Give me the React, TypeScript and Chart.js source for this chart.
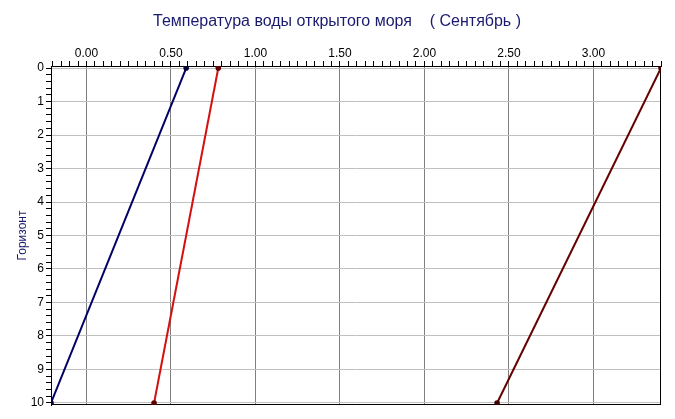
import React, { useEffect, useRef } from 'react';
import { Chart, registerables } from 'chart.js';

Chart.register(...registerables);

const TITLE = 'Температура воды открытого моря    ( Сентябрь )';
const Y_TITLE = 'Горизонт';
const HORIZONS = [0, 10];
const SERIES_NAVY = [0.59, -0.21];
const SERIES_RED = [0.78, 0.4];
const SERIES_DARKRED = [3.4, 2.43];
const X_MIN = -0.21;
const X_MAX = 3.4;
const Y_MIN = -0.06;
const Y_MAX = 10.06;
const X_STEP = 0.05;
const X_MAJOR = 0.5;
const Y_STEP = 0.2;
const Y_MAJOR = 1;

const FONT = '"Liberation Sans", Arial, sans-serif';

const isMajor = (v: number, m: number) => Math.abs(v / m - Math.round(v / m)) < 1e-6;

const toPoints = (xs: number[]) => xs.map((x, i) => ({ x, y: HORIZONS[i] }));

const framePlugin = {
  id: 'frame',
  beforeDatasetsDraw(chart: any) {
    const { ctx, chartArea } = chart;
    ctx.save();
    ctx.strokeStyle = '#000';
    ctx.lineWidth = 1;
    ctx.strokeRect(
      Math.round(chartArea.left) + 0.5,
      Math.round(chartArea.top) + 0.5,
      Math.round(chartArea.right - chartArea.left) - 1,
      Math.round(chartArea.bottom - chartArea.top) - 1
    );
    ctx.restore();
  },
  afterDraw(chart: any) {
    const { ctx } = chart;
    ctx.save();
    ctx.fillStyle = '#1a1a6e';
    ctx.font = `16px ${FONT}`;
    ctx.textAlign = 'center';
    ctx.textBaseline = 'middle';
    ctx.fillText(TITLE, 337, 22);
    ctx.restore();
  },
};

export default function App() {
  const ref = useRef<HTMLCanvasElement | null>(null);

  useEffect(() => {
    document.body.style.margin = '0';
    if (!ref.current) return;
    const chart = new Chart(ref.current, {
      type: 'scatter',
      data: {
        datasets: [
          {
            data: toPoints(SERIES_NAVY),
            showLine: true,
            borderColor: '#000066',
            borderWidth: 2,
            pointRadius: 1.8,
            pointBackgroundColor: '#000033',
            pointBorderColor: '#000033',
          },
          {
            data: toPoints(SERIES_RED),
            showLine: true,
            borderColor: '#d41010',
            borderWidth: 2,
            pointRadius: 1.8,
            pointBackgroundColor: '#600000',
            pointBorderColor: '#600000',
          },
          {
            data: toPoints(SERIES_DARKRED),
            showLine: true,
            borderColor: '#660000',
            borderWidth: 2,
            pointRadius: 1.8,
            pointBackgroundColor: '#400000',
            pointBorderColor: '#400000',
          },
        ],
      },
      options: {
        responsive: false,
        animation: false,
        devicePixelRatio: 1,
        layout: { padding: { top: 0, left: 0, right: 14, bottom: 14 } },
        plugins: { legend: { display: false }, tooltip: { enabled: false }, title: { display: false } },
        scales: {
          x: {
            type: 'linear',
            position: 'top',
            min: X_MIN,
            max: X_MAX,
            afterFit: (s: any) => {
              s.height = 66;
            },
            border: { display: true, color: '#000', width: 1 },
            grid: {
              color: (c: any) => (c.tick && isMajor(c.tick.value, X_MAJOR) ? '#808080' : 'rgba(0,0,0,0)'),
              tickColor: '#000',
              tickLength: 5,
              lineWidth: 1,
            },
            ticks: {
              stepSize: X_STEP,
              includeBounds: false,
              autoSkip: false,
              maxRotation: 0,
              minRotation: 0,
              padding: 0,
              color: '#000',
              font: { family: FONT, size: 12 },
              callback: (v: any) => (isMajor(Number(v), X_MAJOR) ? Number(v).toFixed(2) : ''),
            },
          },
          y: {
            type: 'linear',
            reverse: true,
            min: Y_MIN,
            max: Y_MAX,
            afterFit: (s: any) => {
              s.width = 51;
            },
            border: { display: true, color: '#000', width: 1 },
            title: {
              display: true,
              text: Y_TITLE,
              color: '#1a1a6e',
              font: { family: FONT, size: 12 },
              padding: { top: 15, bottom: 0 },
            },
            grid: {
              color: (c: any) => (c.tick && isMajor(c.tick.value, Y_MAJOR) ? '#c0c0c0' : 'rgba(0,0,0,0)'),
              tickColor: '#000',
              tickLength: 5,
              lineWidth: 1,
            },
            ticks: {
              stepSize: Y_STEP,
              includeBounds: false,
              autoSkip: false,
              padding: 2,
              color: '#000',
              font: { family: FONT, size: 12 },
              callback: (v: any) => {
                const n = Number(v);
                return isMajor(n, Y_MAJOR) && n >= 0 && n <= 10 ? String(Math.round(n)) : '';
              },
            },
          },
        },
      },
      plugins: [framePlugin],
    });
    return () => chart.destroy();
  }, []);

  return <canvas ref={ref} width={675} height={419} />;
}
